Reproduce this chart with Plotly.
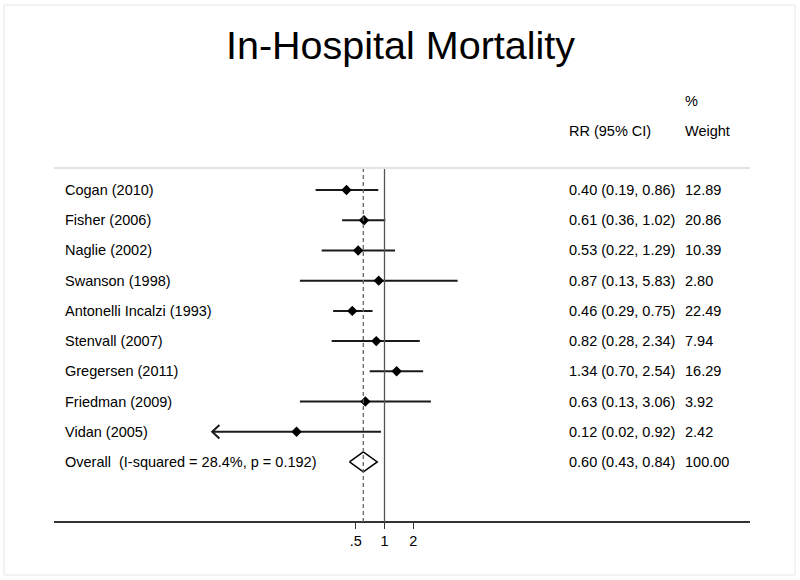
import plotly.graph_objects as go

# ---------------- data ----------------
studies = ["Cogan (2010)", "Fisher (2006)", "Naglie (2002)", "Swanson (1998)",
           "Antonelli Incalzi (1993)", "Stenvall (2007)", "Gregersen (2011)",
           "Friedman (2009)", "Vidan (2005)"]
rr = [0.40, 0.61, 0.53, 0.87, 0.46, 0.82, 1.34, 0.63, 0.12]
ci_low = [0.19, 0.36, 0.22, 0.13, 0.29, 0.28, 0.70, 0.13, 0.0156]
ci_high = [0.86, 1.02, 1.29, 5.83, 0.75, 2.34, 2.54, 3.06, 0.92]
weights = [12.89, 20.86, 10.39, 2.80, 22.49, 7.94, 16.29, 3.92, 2.42]

overall_label = "Overall\u00a0\u00a0(I-squared = 28.4%, p = 0.192)"
overall_rr = 0.60
overall_low = 0.43
overall_high = 0.84
overall_weight = 100.00

tick_vals = [0.5, 1, 2]
tick_text = [".5", "1", "2"]
x_clip_low = 0.0157   # lower display limit of the plot region (CI clipped with arrow)

title = "In-Hospital Mortality"

# ---------------- layout helpers ----------------
W, H = 800, 580
FONT = "Liberation Sans, Arial, Helvetica, sans-serif"
ROW0_PX, ROW_STEP = 190.0, 30.22
AXIS_PX = 522.0
n = len(studies)
rows = list(range(n))
overall_row = n


def py(px):
    return 1 - px / H


fig = go.Figure()

# CI lines (clipped at lower display limit)
cx, cy = [], []
for r, lo, hi in zip(rows, ci_low, ci_high):
    cx += [max(lo, x_clip_low), hi, None]
    cy += [r, r, None]
fig.add_trace(go.Scatter(x=cx, y=cy, mode="lines",
                         line=dict(color="#1a1a1a", width=2), hoverinfo="skip"))

# arrows for clipped CIs
ax, ay = [], []
for r, lo in zip(rows, ci_low):
    if lo < x_clip_low:
        ax += [x_clip_low * 1.19, x_clip_low, x_clip_low * 1.19, None]
        ay += [r - 0.22, r, r + 0.22, None]
fig.add_trace(go.Scatter(x=ax, y=ay, mode="lines",
                         line=dict(color="#1a1a1a", width=2), hoverinfo="skip"))

# point estimates
fig.add_trace(go.Scatter(x=rr, y=rows, mode="markers",
                         marker=dict(symbol="diamond", size=8, color="black"),
                         hoverinfo="skip"))

# overall diamond
fig.add_trace(go.Scatter(
    x=[overall_low, overall_rr, overall_high, overall_rr, overall_low],
    y=[overall_row, overall_row - 0.33, overall_row, overall_row + 0.33, overall_row],
    mode="lines", line=dict(color="black", width=1.5), hoverinfo="skip"))

# reference lines
top_px = 169
fig.add_shape(type="line", xref="x", yref="paper", x0=1, x1=1,
              y0=py(AXIS_PX), y1=py(top_px), line=dict(color="#555555", width=1.3))
fig.add_shape(type="line", xref="x", yref="paper", x0=overall_rr, x1=overall_rr,
              y0=py(AXIS_PX), y1=py(top_px), line=dict(color="#666666", width=1.3, dash="4px,3px"))

# header separator line
fig.add_shape(type="line", xref="paper", yref="paper", x0=54 / W, x1=750 / W,
              y0=py(168), y1=py(168), line=dict(color="#c8c8c8", width=1))

# faint outer frame
fig.add_shape(type="rect", xref="paper", yref="paper", x0=4 / W, x1=795 / W,
              y0=py(575), y1=py(5), line=dict(color="#e6e6e6", width=1))

ann = []
txt_font = dict(family=FONT, size=14.5, color="black")
for r, name, v, lo, hi, w in zip(rows, studies, rr, ci_low, ci_high, weights):
    ann.append(dict(x=63 / W, xref="paper", y=r, yref="y", text=name,
                    xanchor="left", yanchor="middle", showarrow=False, font=txt_font))
    ann.append(dict(x=567 / W, xref="paper", y=r, yref="y",
                    text=f"{v:.2f} ({lo:.2f}, {hi:.2f})",
                    xanchor="left", yanchor="middle", showarrow=False, font=txt_font))
    ann.append(dict(x=683 / W, xref="paper", y=r, yref="y", text=f"{w:.2f}",
                    xanchor="left", yanchor="middle", showarrow=False, font=txt_font))
ann.append(dict(x=63 / W, xref="paper", y=overall_row, yref="y", text=overall_label,
                xanchor="left", yanchor="middle", showarrow=False, font=txt_font))
ann.append(dict(x=567 / W, xref="paper", y=overall_row, yref="y",
                text=f"{overall_rr:.2f} ({overall_low:.2f}, {overall_high:.2f})",
                xanchor="left", yanchor="middle", showarrow=False, font=txt_font))
ann.append(dict(x=683 / W, xref="paper", y=overall_row, yref="y",
                text=f"{overall_weight:.2f}",
                xanchor="left", yanchor="middle", showarrow=False, font=txt_font))
# headers
ann.append(dict(x=683 / W, xref="paper", y=py(101), yref="paper", text="%",
                xanchor="left", yanchor="middle", showarrow=False, font=txt_font))
ann.append(dict(x=567 / W, xref="paper", y=py(131), yref="paper", text="RR (95% CI)",
                xanchor="left", yanchor="middle", showarrow=False, font=txt_font))
ann.append(dict(x=683 / W, xref="paper", y=py(131), yref="paper", text="Weight",
                xanchor="left", yanchor="middle", showarrow=False, font=txt_font))
# title
ann.append(dict(x=0.5, xref="paper", y=py(45), yref="paper", text=title,
                xanchor="center", yanchor="middle", showarrow=False,
                font=dict(family=FONT, size=39.5, color="black")))

px_per_dec = 95.5
one_px = 384.5
xr = [(54 - one_px) / px_per_dec, (750 - one_px) / px_per_dec]
yr = [(H - ROW0_PX) / ROW_STEP, (0 - ROW0_PX) / ROW_STEP]

fig.update_layout(
    width=W, height=H,
    margin=dict(l=0, r=0, t=0, b=0),
    paper_bgcolor="white", plot_bgcolor="white",
    showlegend=False,
    annotations=ann,
    xaxis=dict(type="log", range=xr, domain=[54 / W, 750 / W],
               anchor="free", position=(H - AXIS_PX) / H,
               showgrid=False, zeroline=False,
               showline=True, linecolor="#333333", linewidth=2,
               ticks="outside", ticklen=6, tickwidth=1.3, tickcolor="#333333",
               tickvals=tick_vals, ticktext=tick_text,
               tickfont=dict(family=FONT, size=14.5, color="black")),
    yaxis=dict(range=yr, domain=[0, 1], visible=False, showgrid=False, zeroline=False),
)

fig.write_html("out.html", config={"displayModeBar": False},
               post_script="document.body.style.margin='0';document.body.style.overflow='hidden';")
